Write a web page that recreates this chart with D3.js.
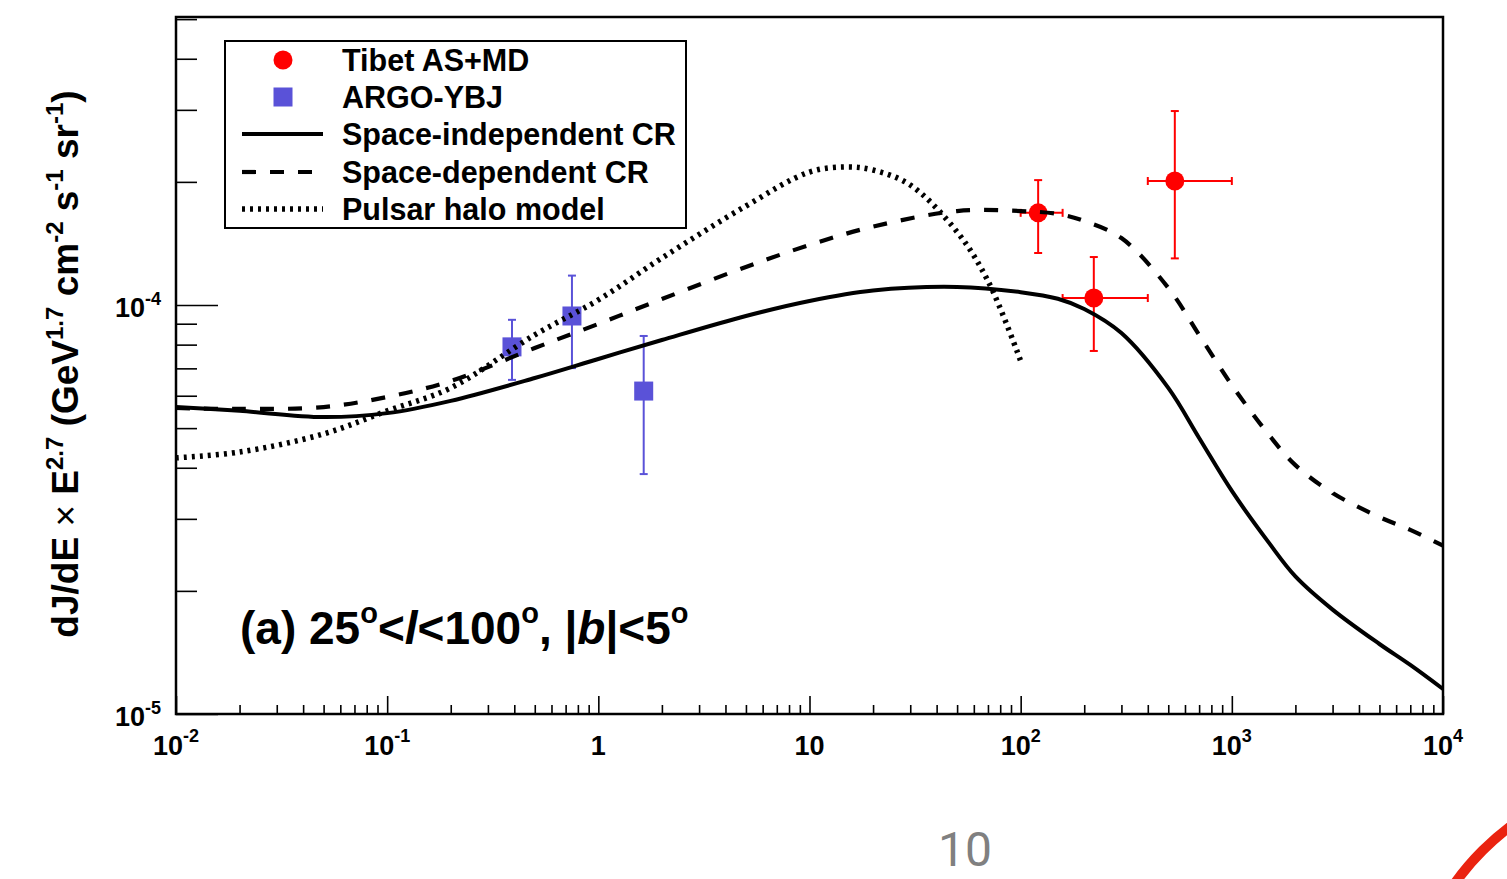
<!DOCTYPE html>
<html>
<head>
<meta charset="utf-8">
<script src="https://cdn.jsdelivr.net/npm/d3@7"></script>
<style>
body { margin: 0; background: #fff; }
svg text { font-family: "Liberation Sans", Arial, Helvetica, sans-serif; font-weight: bold; }
</style>
</head>
<body>
<div id="plot"></div>
<script>
// model curves: energy (GeV) and dJ/dE * E^2.7
var indepE = [0.01, 0.02, 0.05, 0.1, 0.2, 0.5, 1, 2, 5, 10, 20, 50, 100, 150, 200, 300, 500, 700, 1000, 1500, 2000, 3000, 5000, 7000, 10000];
var indepF = [5.63e-5, 5.51e-5, 5.32e-5, 5.44e-5, 5.83e-5, 6.63e-5, 7.38e-5, 8.21e-5, 9.40e-5, 1.023e-4, 1.085e-4, 1.107e-4, 1.075e-4, 1.036e-4, 9.78e-5, 8.54e-5, 6.27e-5, 4.73e-5, 3.51e-5, 2.62e-5, 2.17e-5, 1.80e-5, 1.483e-5, 1.318e-5, 1.151e-5];

var depE = [0.01, 0.02, 0.05, 0.1, 0.2, 0.5, 1, 2, 5, 10, 20, 50, 100, 150, 200, 300, 500, 700, 1000, 1500, 2000, 3000, 5000, 7000, 10000];
var depF = [5.60e-5, 5.57e-5, 5.63e-5, 5.96e-5, 6.52e-5, 7.85e-5, 8.99e-5, 1.034e-4, 1.239e-4, 1.402e-4, 1.555e-4, 1.697e-4, 1.697e-4, 1.669e-4, 1.605e-4, 1.458e-4, 1.101e-4, 8.45e-5, 6.37e-5, 4.81e-5, 4.06e-5, 3.47e-5, 3.03e-5, 2.82e-5, 2.58e-5];

var haloE = [0.01, 0.02, 0.05, 0.1, 0.2, 0.5, 1, 2, 5, 10, 15, 20, 30, 50, 70, 100];
var haloF = [4.23e-5, 4.37e-5, 4.84e-5, 5.51e-5, 6.27e-5, 8.45e-5, 1.029e-4, 1.303e-4, 1.746e-4, 2.114e-4, 2.175e-4, 2.138e-4, 1.965e-4, 1.509e-4, 1.145e-4, 7.30e-5];

// Tibet AS+MD
var tibetE = [121, 222, 537];
var tibetElo = [100, 158, 400];
var tibetEhi = [158, 400, 1000];
var tibetF = [1.68e-4, 1.04e-4, 2.01e-4];
var tibetFlo = [1.34e-4, 7.72e-5, 1.30e-4];
var tibetFhi = [2.02e-4, 1.31e-4, 2.98e-4];

// ARGO-YBJ
var argoE = [0.39, 0.75, 1.64];
var argoF = [7.9e-5, 9.4e-5, 6.16e-5];
var argoFlo = [6.56e-5, 7.01e-5, 3.86e-5];
var argoFhi = [9.2e-5, 1.18e-4, 8.4e-5];

var xMajor = [1e-2, 1e-1, 1, 10, 1e2, 1e3, 1e4];
var xLabels = [["10", "-2"], ["10", "-1"], ["1", ""], ["10", ""], ["10", "2"], ["10", "3"], ["10", "4"]];
var yMajor = [1e-5, 1e-4];
var yLabels = [["10", "-5"], ["10", "-4"]];

var legendNames = ["Tibet AS+MD", "ARGO-YBJ", "Space-independent CR", "Space-dependent CR", "Pulsar halo model"];

var red = "#ff0000";
var blue = "#5a52d8";

function minorTicks(lo, hi){
    var out = [];
    for (var p = lo; p < hi; p++){
        for (var k = 2; k <= 9; k++){
            out.push(k * Math.pow(10, p));
        }
    }
    return out;
}

function start(){
    var width = 1507, height = 879;
    var left = 176, right = 1443, top = 17, bottom = 714;

    var svg = d3.select("#plot").append("svg")
        .attr("width", width)
        .attr("height", height);

    var x = d3.scaleLog().domain([1e-2, 1e4]).range([left, right]);
    var y = d3.scaleLog().domain([1e-5, 5.06e-4]).range([bottom, top]);

    // x ticks (pointing inward)
    svg.append("g")
        .attr("transform", "translate(0," + bottom + ")")
        .call(d3.axisBottom(x).tickValues(minorTicks(-2, 4)).tickSizeInner(-9).tickSizeOuter(0).tickFormat(""))
        .call(g => g.select(".domain").remove())
        .selectAll("line").attr("stroke-width", 1.6);
    svg.append("g")
        .attr("transform", "translate(0," + bottom + ")")
        .call(d3.axisBottom(x).tickValues(xMajor).tickSizeInner(-18).tickSizeOuter(0).tickFormat(""))
        .call(g => g.select(".domain").remove())
        .selectAll("line").attr("stroke-width", 1.6);

    // y ticks
    var yMinor = minorTicks(-5, -4).concat([2e-4, 3e-4, 4e-4, 5e-4]);
    svg.append("g")
        .attr("transform", "translate(" + left + ",0)")
        .call(d3.axisLeft(y).tickValues(yMinor).tickSizeInner(-21).tickSizeOuter(0).tickFormat(""))
        .call(g => g.select(".domain").remove())
        .selectAll("line").attr("stroke-width", 1.6);
    svg.append("g")
        .attr("transform", "translate(" + left + ",0)")
        .call(d3.axisLeft(y).tickValues(yMajor).tickSizeInner(-42).tickSizeOuter(0).tickFormat(""))
        .call(g => g.select(".domain").remove())
        .selectAll("line").attr("stroke-width", 1.6);

    // x tick labels
    xMajor.forEach(function(v, i){
        var t = svg.append("text")
            .attr("x", x(v))
            .attr("y", 755)
            .attr("text-anchor", "middle")
            .style("font-size", "27px");
        t.append("tspan").text(xLabels[i][0]);
        if (xLabels[i][1] != ""){
            t.append("tspan").attr("dy", -13).style("font-size", "18px").text(xLabels[i][1]);
        }
    });

    // y tick labels
    yMajor.forEach(function(v, i){
        var t = svg.append("text")
            .attr("x", 161)
            .attr("y", y(v) + 12)
            .attr("text-anchor", "end")
            .style("font-size", "27px");
        t.append("tspan").text(yLabels[i][0]);
        t.append("tspan").attr("dy", -12).style("font-size", "18px").text(yLabels[i][1]);
    });

    // y title
    var yt = svg.append("text")
        .attr("transform", "translate(78,364) rotate(-90)")
        .attr("text-anchor", "middle")
        .style("font-size", "37px");
    yt.append("tspan").text("dJ/dE ");
    yt.append("tspan").style("font-weight", "normal").text("\u00d7");
    yt.append("tspan").text(" E");
    yt.append("tspan").attr("dy", -15).style("font-size", "24px").text("2.7");
    yt.append("tspan").attr("dy", 15).text(" (GeV");
    yt.append("tspan").attr("dy", -15).style("font-size", "24px").text("1.7");
    yt.append("tspan").attr("dy", 15).text(" cm");
    yt.append("tspan").attr("dy", -15).style("font-size", "24px").text("-2");
    yt.append("tspan").attr("dy", 15).text(" s");
    yt.append("tspan").attr("dy", -15).style("font-size", "24px").text("-1");
    yt.append("tspan").attr("dy", 15).text(" sr");
    yt.append("tspan").attr("dy", -15).style("font-size", "24px").text("-1");
    yt.append("tspan").attr("dy", 15).text(")");

    // ARGO points
    var cap = 4;
    var argo = argoE.map(function(e, i){ return {e: e, f: argoF[i], lo: argoFlo[i], hi: argoFhi[i]}; });
    var ga = svg.append("g").attr("stroke", blue).attr("stroke-width", 2);
    ga.selectAll(".argoBar").data(argo).enter().append("line")
        .attr("x1", d => x(d.e)).attr("x2", d => x(d.e))
        .attr("y1", d => y(d.lo)).attr("y2", d => y(d.hi));
    ga.selectAll(".argoCapLo").data(argo).enter().append("line")
        .attr("x1", d => x(d.e) - cap).attr("x2", d => x(d.e) + cap)
        .attr("y1", d => y(d.lo)).attr("y2", d => y(d.lo));
    ga.selectAll(".argoCapHi").data(argo).enter().append("line")
        .attr("x1", d => x(d.e) - cap).attr("x2", d => x(d.e) + cap)
        .attr("y1", d => y(d.hi)).attr("y2", d => y(d.hi));
    svg.selectAll(".argoBox").data(argo).enter().append("rect")
        .attr("x", d => x(d.e) - 9.5).attr("y", d => y(d.f) - 9.5)
        .attr("width", 19).attr("height", 19)
        .attr("fill", blue);

    // Tibet points
    var tibet = tibetE.map(function(e, i){
        return {e: e, elo: tibetElo[i], ehi: tibetEhi[i], f: tibetF[i], lo: tibetFlo[i], hi: tibetFhi[i]};
    });
    var gt = svg.append("g").attr("stroke", red).attr("stroke-width", 2);
    gt.selectAll(".tv").data(tibet).enter().append("line")
        .attr("x1", d => x(d.e)).attr("x2", d => x(d.e))
        .attr("y1", d => y(d.lo)).attr("y2", d => y(d.hi));
    gt.selectAll(".th").data(tibet).enter().append("line")
        .attr("x1", d => x(d.elo)).attr("x2", d => x(d.ehi))
        .attr("y1", d => y(d.f)).attr("y2", d => y(d.f));
    gt.selectAll(".tcl").data(tibet).enter().append("line")
        .attr("x1", d => x(d.e) - cap).attr("x2", d => x(d.e) + cap)
        .attr("y1", d => y(d.lo)).attr("y2", d => y(d.lo));
    gt.selectAll(".tch").data(tibet).enter().append("line")
        .attr("x1", d => x(d.e) - cap).attr("x2", d => x(d.e) + cap)
        .attr("y1", d => y(d.hi)).attr("y2", d => y(d.hi));
    gt.selectAll(".tcel").data(tibet).enter().append("line")
        .attr("x1", d => x(d.elo)).attr("x2", d => x(d.elo))
        .attr("y1", d => y(d.f) - cap).attr("y2", d => y(d.f) + cap);
    gt.selectAll(".tceh").data(tibet).enter().append("line")
        .attr("x1", d => x(d.ehi)).attr("x2", d => x(d.ehi))
        .attr("y1", d => y(d.f) - cap).attr("y2", d => y(d.f) + cap);
    svg.selectAll(".tibetDot").data(tibet).enter().append("circle")
        .attr("cx", d => x(d.e)).attr("cy", d => y(d.f))
        .attr("r", 9.5).attr("fill", red);

    // model curves
    var line = d3.line().x(d => x(d[0])).y(d => y(d[1])).curve(d3.curveCatmullRom.alpha(0.5));
    var curves = [
        {e: indepE, f: indepF, dash: null, w: 4},
        {e: depE, f: depF, dash: "14,14", w: 4.2},
        {e: haloE, f: haloF, dash: "3,5", w: 5.5}
    ];
    curves.forEach(function(c){
        svg.append("path")
            .datum(d3.zip(c.e, c.f))
            .attr("d", line)
            .attr("fill", "none")
            .attr("stroke", "black")
            .attr("stroke-width", c.w)
            .attr("stroke-dasharray", c.dash);
    });

    // frame
    svg.append("rect")
        .attr("x", left).attr("y", top)
        .attr("width", right - left).attr("height", bottom - top)
        .attr("fill", "none").attr("stroke", "black").attr("stroke-width", 2.5);

    // legend
    var lg = svg.append("g");
    lg.append("rect")
        .attr("x", 225).attr("y", 41).attr("width", 461).attr("height", 187)
        .attr("fill", "white").attr("stroke", "black").attr("stroke-width", 2);
    var rows = [60, 97, 134, 172, 209];
    lg.selectAll(".lt").data(legendNames).enter().append("text")
        .attr("x", 342)
        .attr("y", (d, i) => rows[i] + 11)
        .style("font-size", "30.5px")
        .text(d => d);
    lg.append("circle").attr("cx", 283).attr("cy", rows[0]).attr("r", 9.5).attr("fill", red);
    lg.append("rect").attr("x", 273.5).attr("y", rows[1] - 9.5).attr("width", 19).attr("height", 19).attr("fill", blue);
    curves.forEach(function(c, i){
        lg.append("line")
            .attr("x1", 242).attr("x2", 323)
            .attr("y1", rows[i + 2]).attr("y2", rows[i + 2])
            .attr("stroke", "black")
            .attr("stroke-width", c.w)
            .attr("stroke-dasharray", c.dash);
    });

    // region annotation
    var an = svg.append("text").attr("x", 240).attr("y", 644).style("font-size", "46px");
    an.append("tspan").text("(a) 25");
    an.append("tspan").attr("dy", -21).style("font-size", "29px").text("o");
    an.append("tspan").attr("dy", 21).text("<");
    an.append("tspan").style("font-style", "italic").text("l");
    an.append("tspan").text("<100");
    an.append("tspan").attr("dy", -21).style("font-size", "29px").text("o");
    an.append("tspan").attr("dy", 21).text(", |");
    an.append("tspan").style("font-style", "italic").text("b");
    an.append("tspan").text("|<5");
    an.append("tspan").attr("dy", -21).style("font-size", "29px").text("o");

    // page number and slide decoration
    svg.append("text")
        .attr("x", 965).attr("y", 866)
        .attr("text-anchor", "middle")
        .style("font-family", "Roboto, sans-serif")
        .style("font-weight", "normal")
        .style("font-size", "48px")
        .attr("fill", "#808080")
        .text("10");
    svg.append("circle")
        .attr("cx", 1665).attr("cy", 1033).attr("r", 258)
        .attr("fill", "none").attr("stroke", "#ea2310").attr("stroke-width", 10);
}

start()
</script>
</body>
</html>
